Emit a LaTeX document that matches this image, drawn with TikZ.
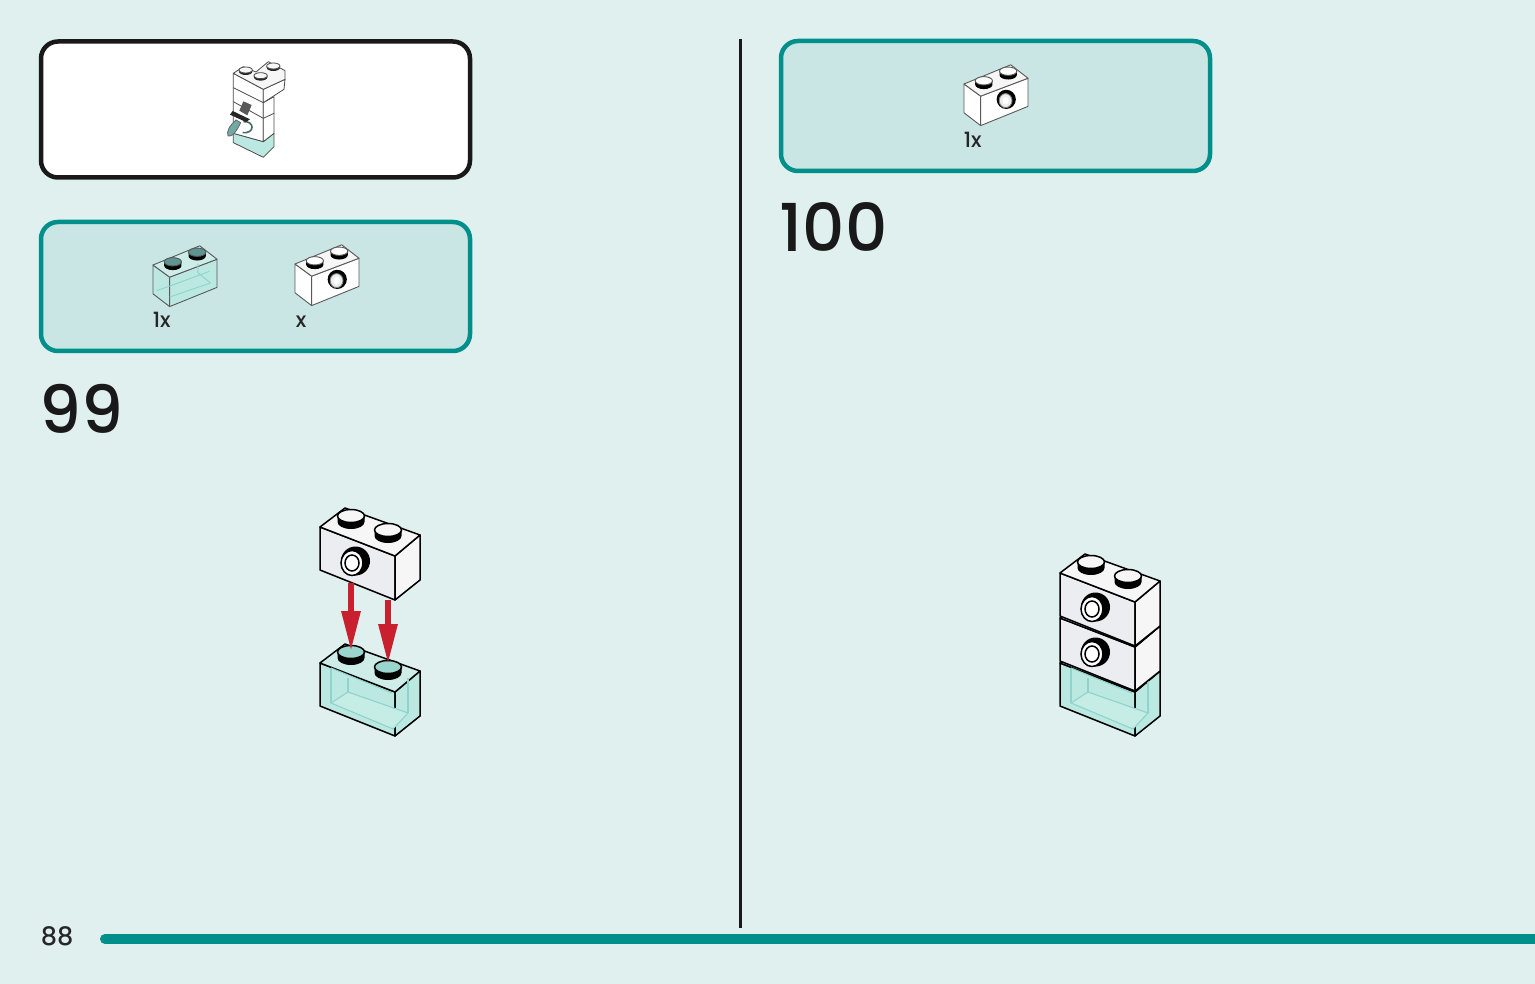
\documentclass[tikz,border=0pt]{standalone}
\usepackage{fontspec}
\setmainfont{Poppins}[UprightFont=* Medium]
\usetikzlibrary{arrows.meta}
\definecolor{pagebg}{HTML}{DFF0EE}
\definecolor{boxbg}{HTML}{C9E5E4}
\definecolor{tealline}{HTML}{008F8B}
\definecolor{arrowred}{HTML}{C8202F}
\definecolor{glassfront}{HTML}{BBE9E2}
\definecolor{glasstop}{HTML}{CFEDE8}
\definecolor{glassfloor}{HTML}{C6ECE6}
\definecolor{glassline}{HTML}{8FD3CB}
\definecolor{studglass}{HTML}{9AD5CE}
\definecolor{studdark}{HTML}{5E9590}
\definecolor{whitefront}{HTML}{ECEDF0}
\definecolor{whiteside}{HTML}{F6F6F7}
\tikzset{
	partbox/.style={draw=tealline, line width=4.5pt, fill=boxbg, rounded corners=17pt, inner sep=0pt},
	countlabel/.style={anchor=base west, font=\fontsize{21}{21}\selectfont, text=black!85, inner sep=0pt},
	steplabel/.style={anchor=base west, font=\fontsize{66}{66}\selectfont, text=black!90, inner sep=0pt},
	droparrow/.style={draw=arrowred, line width=6pt, -{Triangle[length=40pt,width=18pt,fill=arrowred]}},
	studtop/.initial=whiteside,
	brickstud/.pic={
		\fill[black] (-13.5,0) -- (-13.5,6) arc[start angle=180, end angle=0, x radius=13.5, y radius=7] -- (13.5,0) -- cycle;
		\filldraw[fill=\pgfkeysvalueof{/tikz/studtop}] (0,0) ellipse[x radius=13.5, y radius=6.5];
	},
	% large view, long face on the left
	whitebrick/.pic={
		\filldraw[fill=whitefront, line join=round] (0,0) -- (75,29) -- (75,73) -- (0,43) -- cycle;
		\filldraw[fill=whiteside, line join=round] (75,29) -- (100,8) -- (100,53) -- (75,73) -- cycle;
		\filldraw[fill=whiteside, line join=round] (0,0) -- (25,-19) -- (100,8) -- (75,29) -- cycle;
		\pic[transform shape, studtop=whiteside] at (31,-11) {brickstud};
		\pic[transform shape, studtop=whiteside] at (68,3) {brickstud};
		\fill[black] (35.5,34) ellipse[x radius=14.5, y radius=14.5];
		\filldraw[fill=white] (32,36) ellipse[x radius=11, y radius=12.5];
		\filldraw[fill=white] (32,36) ellipse[x radius=7, y radius=8];
	},
	glassbrick/.pic={
		\filldraw[fill=glassfront, line join=round] (0,0) -- (75,29) -- (75,73) -- (0,43) -- cycle;
		\filldraw[fill=glassfront, line join=round] (75,29) -- (100,8) -- (100,53) -- (75,73) -- cycle;
		\filldraw[fill=glasstop, line join=round] (0,0) -- (25,-19) -- (100,8) -- (75,29) -- cycle;
		% Inner walls
		\filldraw[draw=glassline, fill=glassfloor, line width=1.1pt] (11,40) -- (28,29) -- (88,50) -- (73,66) -- cycle;
		\draw[draw=glassline, line width=1.1pt] (11,5) -- (11,40) (28,29) -- (28,15) (88,50) -- (88,15);
		\draw[draw=glassline, line width=1.1pt] (11,5) -- (72,30);
		\pic[transform shape, studtop=studglass] at (31,-11) {brickstud};
		\pic[transform shape, studtop=studglass] at (68,4) {brickstud};
	},
	% small view, long face on the right
	smallwhite/.pic={
		\filldraw[fill=white, line join=round] (0,0) -- (26,19) -- (26,65) -- (0,45) -- cycle;
		\filldraw[fill=white, line join=round] (26,19) -- (100,-9) -- (100,35) -- (26,65) -- cycle;
		\filldraw[fill=whiteside, line join=round] (0,0) -- (73,-30) -- (100,-9) -- (26,19) -- cycle;
		\pic[transform shape, studtop=white] at (31,-5) {brickstud};
		\pic[transform shape, studtop=white] at (69,-20) {brickstud};
		\fill[black] (66,24) ellipse[x radius=15, y radius=15];
		\filldraw[draw=black!50, fill=whitefront] (65,26) ellipse[x radius=10, y radius=11];
		\fill[white] (65,26) ellipse[x radius=5, y radius=6];
	},
	smallglass/.pic={
		\filldraw[fill=glassfront, line join=round] (0,0) -- (26,19) -- (26,65) -- (0,45) -- cycle;
		\filldraw[fill=glassfront, line join=round] (26,19) -- (100,-9) -- (100,35) -- (26,65) -- cycle;
		\filldraw[fill=glasstop, line join=round] (0,0) -- (73,-30) -- (100,-9) -- (26,19) -- cycle;
		% Inner walls
		\draw[draw=glassline] (6,40) -- (26,33) -- (88,10) (26,50) -- (90,28) (70,-2) -- (70,12) -- (90,28);
		\pic[transform shape, studtop=studdark] at (31,-5) {brickstud};
		\pic[transform shape, studtop=studdark] at (69,-20) {brickstud};
	}
}
\begin{document}
\begin{tikzpicture}[x=1pt, y=-1pt, line width=1.5pt]
	\useasboundingbox (0,0) rectangle (1535,984);
	\fill[pagebg] (0,0) rectangle (1535,984);

	% Rules
	\coordinate (ruletop) at (740,39);
	\coordinate (rulebot) at (740,928);
	\coordinate (barleft) at (105,939);
	\coordinate (barright) at (1540,939);
	\draw[black!90, line width=3pt] (ruletop) -- (rulebot);
	\draw[tealline, line width=10pt, line cap=round] (barleft) -- (barright);

	% Boxes
	\node[partbox, draw=black!90, fill=white, minimum width=429pt, minimum height=136pt] (finishbox) at (255.5,109.5) {};
	\node[partbox, minimum width=429pt, minimum height=129pt] (partsa) at (255.5,286.5) {};
	\node[partbox, minimum width=429pt, minimum height=130pt] (partsb) at (995.5,106) {};

	% Labels
	\node[countlabel] (counta) at (152,328) {1x};
	\node[countlabel] (countb) at (295,328) {x};
	\node[countlabel] (countc) at (963,148) {1x};
	\node[steplabel] (stepa) at (39,433) {99};
	\node[steplabel] (stepb) at (779,252) {100};
	\node[anchor=base west, font=\fontsize{25.5}{25.5}\selectfont, text=black!85, inner sep=0pt] (pagenum) at (40,945) {88};

	% Small parts
	\pic[scale=.64, line width=.9pt, draw=black!65] at (153,265) {smallglass};
	\pic[scale=.64, line width=.9pt, draw=black!65] at (295,264) {smallwhite};
	\pic[scale=.64, line width=.9pt, draw=black!65] at (964,84) {smallwhite};

	% Finished model
	\begin{scope}[shift={(200,50)}, x=.3333pt, y=-.3333pt, line width=.8pt, draw=black!70, line join=round]
		\filldraw[fill=glassfront] (100,250) -- (190,275) -- (222,250) -- (222,290) -- (190,322) -- (100,278) -- cycle;
		\filldraw[fill=white] (100,70) -- (190,118) -- (190,275) -- (100,250) -- cycle;
		\filldraw[fill=white] (190,158) -- (222,140) -- (222,250) -- (190,275) -- cycle;
		\filldraw[fill=white] (190,118) -- (255,88) -- (252,118) -- (190,158) -- cycle;
		\filldraw[fill=whiteside] (100,70) -- (130,50) -- (168,66) -- (205,35) -- (255,62) -- (255,88) -- (190,118) -- cycle;
		\draw (100,113) -- (190,158) (100,155) -- (190,205) -- (222,190);
		\foreach \sx/\sy in {137/60, 182/77, 220/48} {
			\fill[black!85] (\sx-20,\sy) -- (\sx-20,\sy+5) arc[start angle=180, end angle=0, x radius=20, y radius=10] -- (\sx+20,\sy) -- cycle;
			\filldraw[fill=whiteside] (\sx,\sy) ellipse[x radius=20, y radius=9];
		}
		% Hanging piece
		\filldraw[fill=glassline!80!black, draw=black!60] (108,210) .. controls (90,225) and (78,245) .. (84,258) .. controls (96,264) and (112,240) .. (122,218) -- cycle;
		\draw[glassline!50!black, line width=1.6pt] (130,215) .. controls (165,212) and (165,252) .. (128,248);
		\fill[black!65] (118,182) -- (130,154) -- (155,165) -- (142,196) -- cycle;
		\fill[black!85] (98,183) -- (150,208) -- (138,216) -- (90,194) -- cycle;
	\end{scope}

	% Step 99
	\pic[line width=1.5pt, draw=black] at (320,663) {glassbrick};
	\pic[line width=1.5pt, draw=black] at (320,527) {whitebrick};
	\coordinate (holea) at (351,583);
	\coordinate (studa) at (351,651);
	\coordinate (holeb) at (388,600);
	\coordinate (studb) at (388,664);
	\draw[droparrow] (holea) -- (studa);
	\draw[droparrow] (holeb) -- (studb);

	% Step 100
	\pic[line width=1.5pt, draw=black] at (1060,663) {glassbrick};
	\pic[line width=1.5pt, draw=black] at (1060,618) {whitebrick};
	\pic[line width=1.5pt, draw=black] at (1060,573) {whitebrick};
\end{tikzpicture}
\end{document}
